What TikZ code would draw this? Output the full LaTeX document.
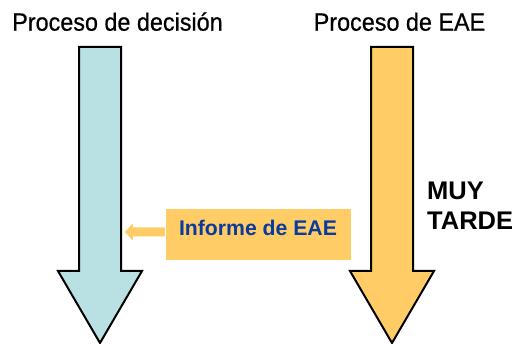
\documentclass[tikz,border=0pt]{standalone}
\usepackage{fontspec}
\setmainfont{Liberation Sans}
\newfontfamily\titlefont[FakeStretch=0.935,FakeBold=0.6]{Liberation Sans}
\definecolor{lblue}{HTML}{B9E0E3}
\definecolor{lorange}{HTML}{FFCC66}
\definecolor{dblue}{HTML}{0A3A9C}
\tikzset{
  bigarrow/.style={draw=black, line width=2pt, line join=miter},
  title/.style={anchor=base, inner sep=0pt, font=\titlefont\fontsize{25}{30}\selectfont},
}
\begin{document}
\begin{tikzpicture}[x=1pt,y=-1pt]
\useasboundingbox (0,0) rectangle (522,344);
% left arrow
\draw[bigarrow, fill=lblue] (79,47) -- (121,47) -- (121,271) -- (142,271) -- (100,343) -- (58,271) -- (79,271) -- cycle;
% right arrow
\draw[bigarrow, fill=lorange] (371,47) -- (413,47) -- (413,271) -- (434,271) -- (392,343) -- (350,271) -- (371,271) -- cycle;
% titles
\node[title] (t1) at (117.5,30.7) {Proceso de decisión};
\node[title] (t2) at (399.5,30.7) {Proceso de EAE};
% informe box
\node[fill=lorange, minimum width=185pt, minimum height=51pt, inner sep=0pt] (infbox) at (258.5,234.5) {};
\node[anchor=base, inner sep=0pt, text=dblue, font=\fontsize{21.2}{25}\selectfont\bfseries] (inftext) at (258,235.7) {Informe de EAE};
% small arrow
\coordinate (sa) at ([xshift=-1pt]infbox.west |- 0,232);
\fill[lorange] (sa) ++(0,-4.5) -- ++(-32,0) -- ++(0,-4) -- ++(-8,8.5) -- ++(8,8.5) -- ++(0,-4) -- ++(32,0) -- cycle;
% muy tarde
\node[anchor=base west, inner sep=0pt, font=\fontsize{25.5}{30}\selectfont\bfseries] (mt) at (427,200) {MUY};
\node[anchor=base west, inner sep=0pt, font=\fontsize{25.5}{30}\selectfont\bfseries] (mt2) at (427,230) {TARDE};
\end{tikzpicture}
\end{document}
